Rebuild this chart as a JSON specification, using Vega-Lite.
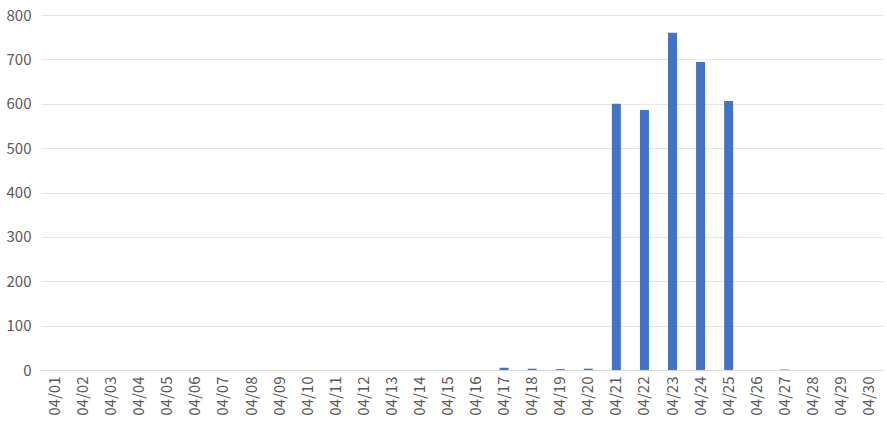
{
  "$schema": "https://vega.github.io/schema/vega-lite/v6.json",
  "width": 887,
  "height": 422,
  "autosize": {"type": "fit", "contains": "padding"},
  "padding": {"left": 6, "right": 4, "top": 8, "bottom": 6},
  "background": "white",
  "config": {"view": {"stroke": null}, "font": "Noto Sans CJK JP"},
  "data": {"values": [
    {"date": "04/01", "value": 0}, {"date": "04/02", "value": 0}, {"date": "04/03", "value": 0},
    {"date": "04/04", "value": 0}, {"date": "04/05", "value": 0}, {"date": "04/06", "value": 0},
    {"date": "04/07", "value": 0}, {"date": "04/08", "value": 0}, {"date": "04/09", "value": 0},
    {"date": "04/10", "value": 0}, {"date": "04/11", "value": 0}, {"date": "04/12", "value": 0},
    {"date": "04/13", "value": 0}, {"date": "04/14", "value": 0}, {"date": "04/15", "value": 0},
    {"date": "04/16", "value": 0}, {"date": "04/17", "value": 5}, {"date": "04/18", "value": 3},
    {"date": "04/19", "value": 2}, {"date": "04/20", "value": 3}, {"date": "04/21", "value": 600},
    {"date": "04/22", "value": 586}, {"date": "04/23", "value": 760}, {"date": "04/24", "value": 694},
    {"date": "04/25", "value": 606}, {"date": "04/26", "value": 0}, {"date": "04/27", "value": 1},
    {"date": "04/28", "value": 0}, {"date": "04/29", "value": 0}, {"date": "04/30", "value": 0}
  ]},
  "mark": {"type": "bar", "color": "#4472C4"},
  "encoding": {
    "x": {
      "field": "date", "type": "ordinal", "title": null,
      "scale": {"paddingInner": 0.68, "paddingOuter": 0.34},
      "axis": {"labelAngle": -90, "labelFontSize": 15, "labelColor": "#595959", "ticks": false,
               "domainColor": "#d9d9d9", "labelPadding": 6, "labelBaseline": "middle"}
    },
    "y": {
      "field": "value", "type": "quantitative", "title": null,
      "scale": {"domain": [0, 800]},
      "axis": {"values": [0,100,200,300,400,500,600,700,800], "labelFontSize": 15, "labelColor": "#595959",
               "domain": false, "ticks": false, "gridColor": "#e6e6e6", "labelPadding": 10}
    }
  }
}
